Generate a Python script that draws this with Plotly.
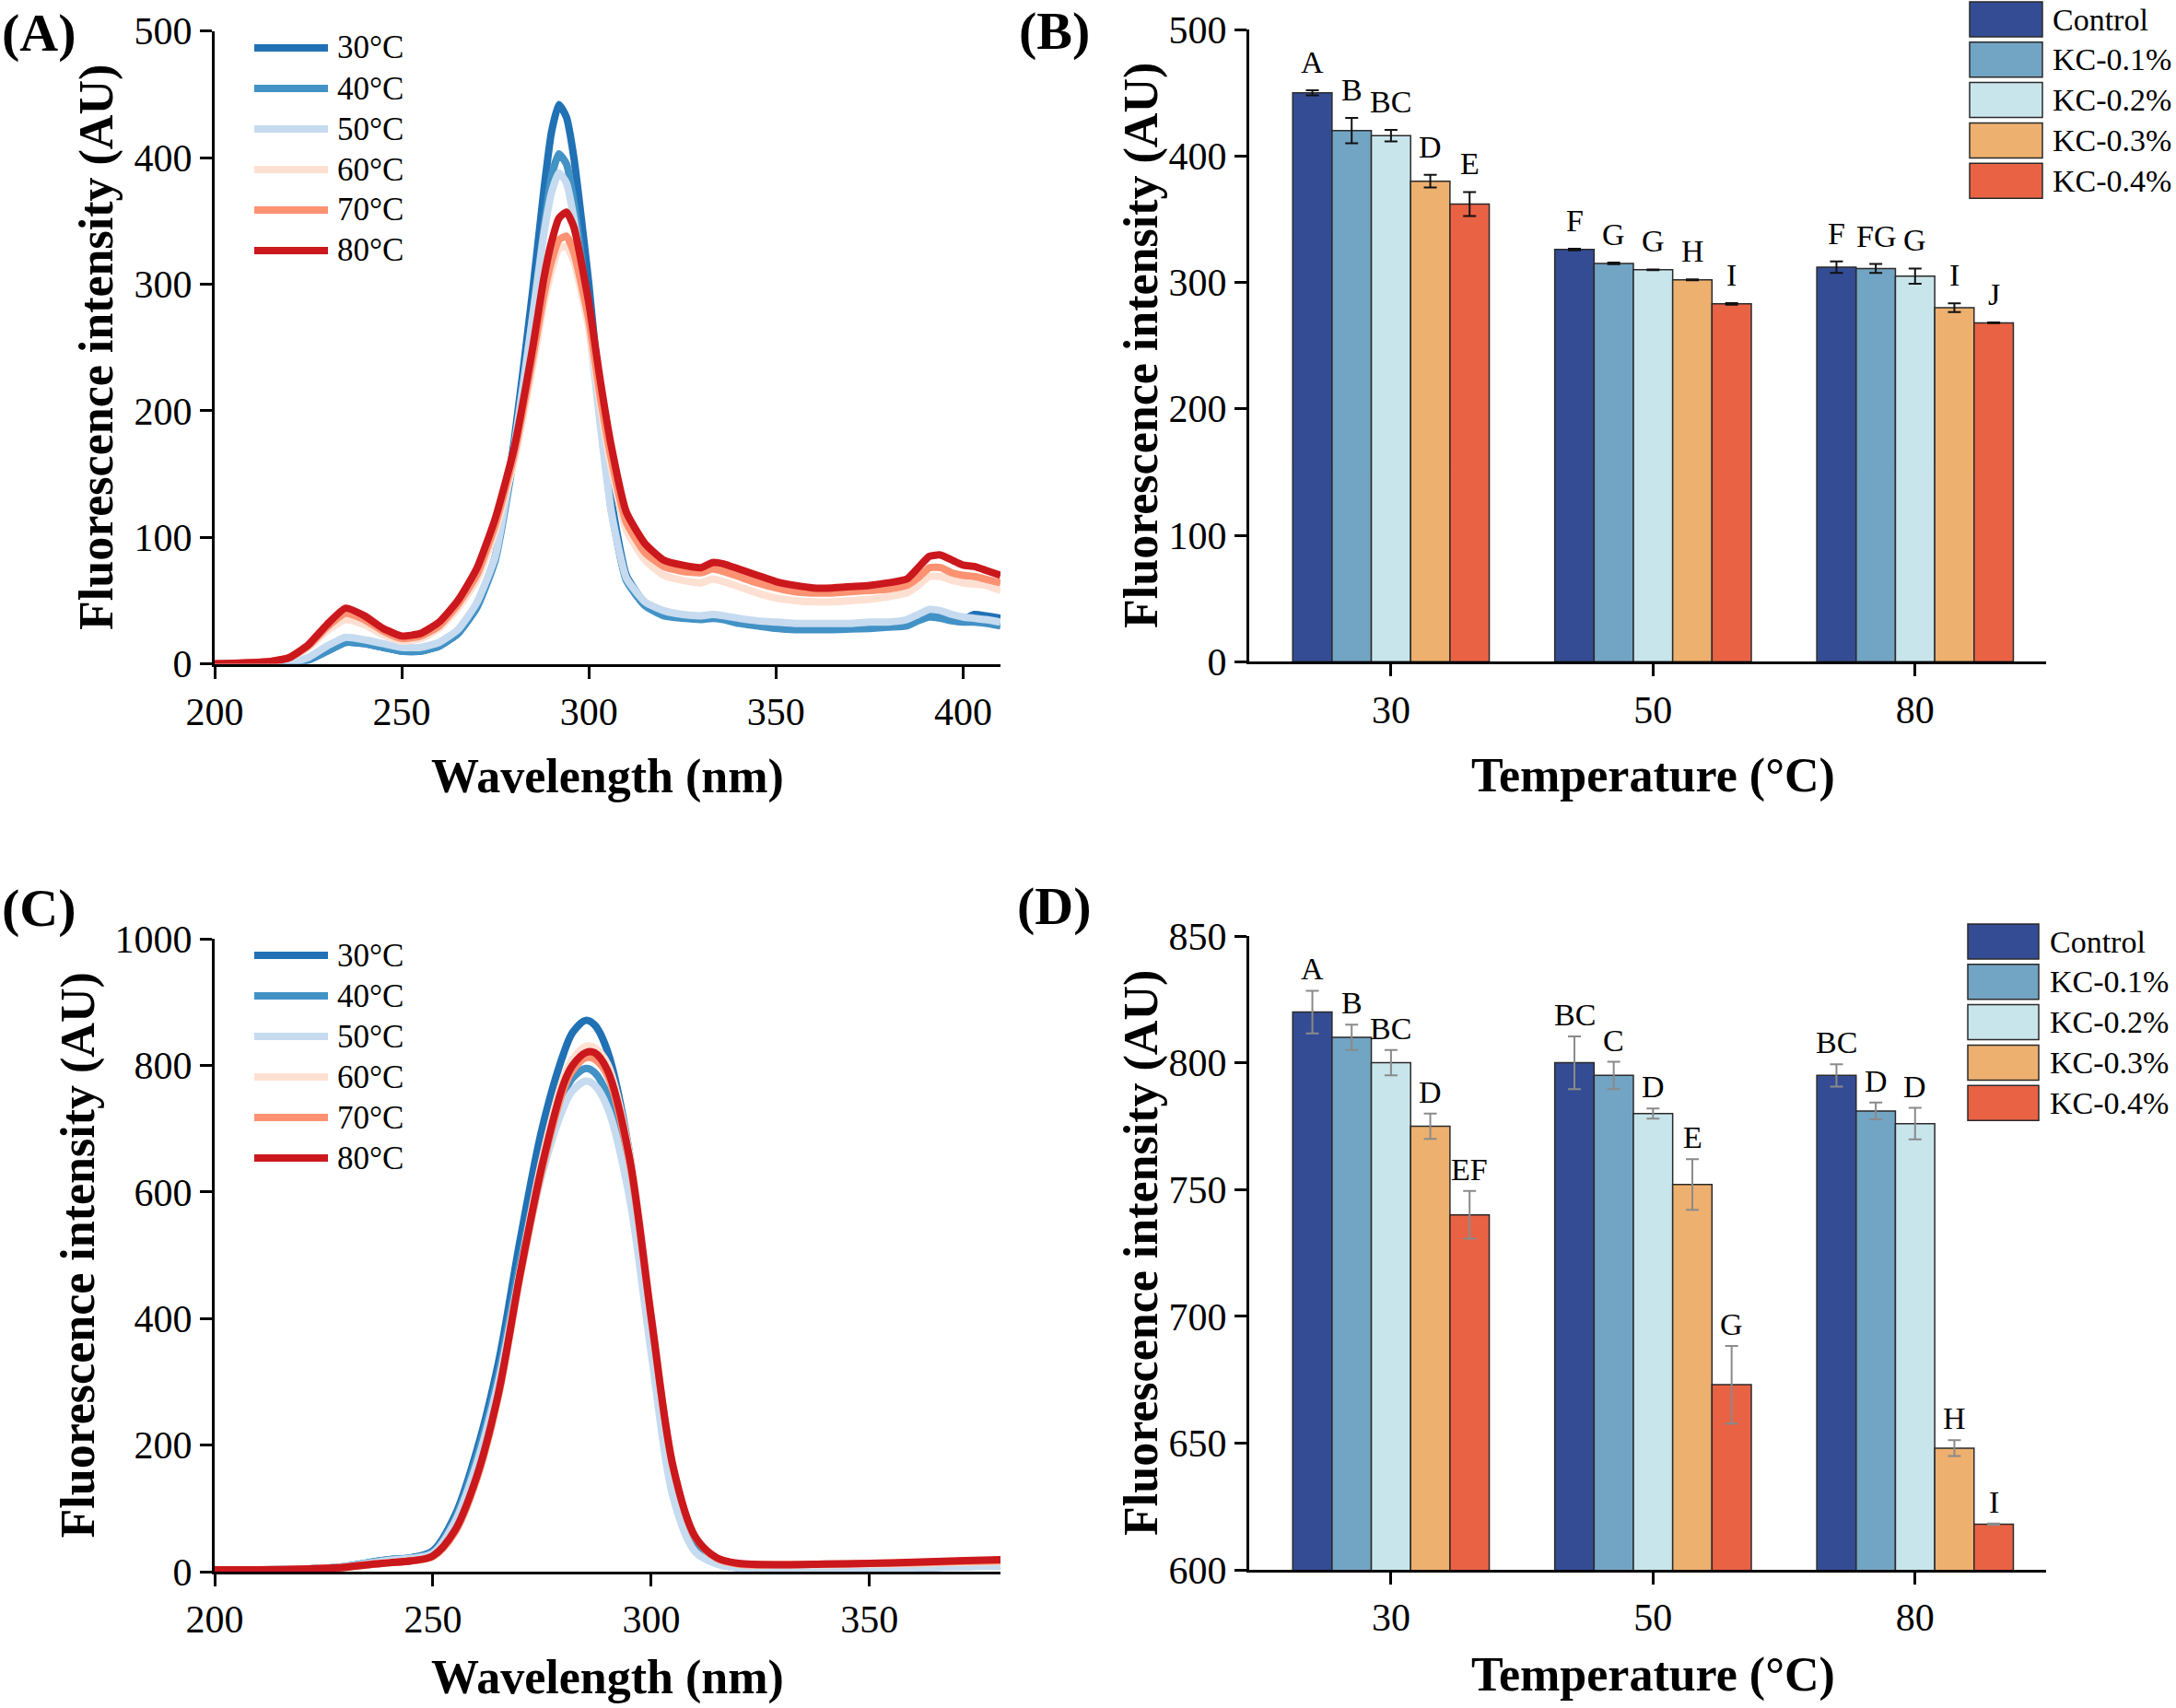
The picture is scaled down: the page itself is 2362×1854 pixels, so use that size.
import plotly.graph_objects as go

FONT = "Liberation Serif"
W, H = 2362, 1854

# ---------------- Panel A data (wavelength, nm) ----------------
wl_a = [200, 205, 210, 215, 220, 225, 230, 235, 240, 245, 250, 255, 260, 265, 270, 275, 280, 285, 288, 290,
        292, 294, 296, 300, 303, 306, 310, 315, 320, 325, 330, 333, 336, 340, 345, 350, 355, 360, 365, 370,
        375, 380, 385, 388, 391, 394, 397, 400, 403, 406, 410]
a_30 = [0, 0, 0, 0, 0, 3, 10, 17, 16, 13, 10, 10, 14, 24, 45, 85, 175, 295, 375, 420,
        442, 432, 400, 300, 210, 130, 70, 48, 40, 37, 36, 37, 36, 34, 32, 30, 28, 28, 28, 29,
        30, 31, 32, 36, 39, 38, 36, 35, 39, 38, 36]
a_40 = [0, 0, 0, 0, 0, 3, 10, 17, 16, 13, 10, 10, 14, 24, 44, 82, 165, 275, 345, 385,
        403, 395, 365, 275, 195, 122, 66, 46, 38, 36, 35, 36, 35, 32, 30, 28, 27, 27, 27, 27.5,
        28, 29, 30, 34, 37, 36, 34, 33, 33, 32, 30]
a_50 = [0, 0, 0, 0, 1, 5, 14, 21, 19, 16, 13, 13, 17, 27, 48, 85, 170, 275, 340, 372,
        388, 380, 352, 268, 190, 120, 68, 49, 42, 39, 38, 39, 38, 36, 34, 33, 32, 32, 32, 32,
        33, 33, 35, 39, 43, 42, 39, 37, 36, 35, 33]
a_60 = [0, 0, 1, 2, 5, 13, 26, 35, 31, 23, 18, 20, 28, 44, 66, 105, 160, 235, 285, 310,
        328, 330, 318, 265, 205, 155, 106, 82, 70, 66, 64, 67, 65, 61, 56, 52, 50, 49, 49, 50,
        51, 53, 56, 62, 69, 69, 66, 64, 63, 62, 58]
a_70 = [0, 0, 1, 2, 5, 14, 29, 40, 35, 26, 20, 22, 30, 47, 70, 110, 165, 242, 292, 318,
        335, 338, 325, 272, 212, 162, 112, 88, 77, 73, 72, 75, 73, 69, 64, 60, 57, 56, 56, 57,
        58, 59, 62, 68, 76, 76, 72, 70, 69, 67, 64]
a_80 = [0, 0.5, 1, 2, 5, 15, 31, 44, 38, 28, 22, 24, 33, 50, 75, 115, 170, 250, 305, 333,
        352, 357, 345, 285, 225, 172, 120, 95, 82, 78, 76, 80, 79, 75, 70, 65, 62, 60, 60, 61,
        62, 64, 67, 76, 85, 86, 82, 78, 77, 74, 70]

# ---------------- Panel C data ----------------
wl_c = [200, 210, 220, 230, 235, 240, 245, 250, 255, 260, 265, 270, 275, 280, 282, 285, 287, 290, 295, 300,
        305, 310, 315, 320, 330, 340, 350, 360, 370, 380]
c_30 = [3, 3, 4, 8, 14, 19, 22, 33, 88, 190, 330, 525, 700, 820, 852, 871, 864, 822, 662, 385,
        135, 38, 14, 7, 5, 5, 5, 6, 8, 10]
c_40 = [3, 3, 4, 8, 14, 19, 22, 31, 83, 180, 312, 490, 645, 755, 780, 795, 789, 752, 608, 355,
        122, 34, 13, 6, 5, 5, 5, 6, 8, 10]
c_50 = [3, 3, 4, 8, 13, 18, 21, 29, 78, 170, 300, 475, 628, 735, 760, 775, 769, 733, 592, 345,
        118, 32, 12, 6, 5, 5, 5, 6, 7, 9]
c_60 = [3, 3, 4, 7, 11, 14, 17, 24, 62, 146, 280, 475, 652, 782, 810, 830, 828, 802, 662, 408,
        168, 56, 22, 12, 11, 11, 12, 13, 15, 16]
c_70 = [3, 3, 4, 7, 11, 14, 17, 24, 62, 146, 278, 468, 636, 764, 792, 812, 810, 784, 648, 400,
        165, 55, 21, 12, 11, 12, 13, 14, 16, 17]
c_80 = [3, 3, 4, 7, 11, 14, 17, 25, 65, 150, 282, 472, 642, 772, 800, 820, 820, 792, 655, 402,
        166, 56, 22, 13, 11, 12, 13, 15, 17, 19]

temp_labels = ["30°C", "40°C", "50°C", "60°C", "70°C", "80°C"]
line_colors = ["#2171b5", "#4292c6", "#c6dbef", "#fee0d2", "#fc9272", "#cb181d"]

# ---------------- Panel B / D data ----------------
categories = ["30", "50", "80"]
groups = ["Control", "KC-0.1%", "KC-0.2%", "KC-0.3%", "KC-0.4%"]
bar_colors = ["#344c94", "#72a4c4", "#c8e5ec", "#edb06f", "#e96244"]

b_control = [450, 326, 312]
b_kc01 = [420, 315, 311]
b_kc02 = [416, 310, 305]
b_kc03 = [380, 302, 280]
b_kc04 = [362, 283, 268]
b_err_control = [2, 0.6, 4.5]
b_err_kc01 = [10, 0.6, 3.5]
b_err_kc02 = [4.5, 0.3, 6]
b_err_kc03 = [5, 0.3, 3.5]
b_err_kc04 = [9.5, 0.6, 0.3]
b_let_control = ["A", "F", "F"]
b_let_kc01 = ["B", "G", "FG"]
b_let_kc02 = ["BC", "G", "G"]
b_let_kc03 = ["D", "H", "I"]
b_let_kc04 = ["E", "I", "J"]

d_control = [820, 800, 795]
d_kc01 = [810, 795, 781]
d_kc02 = [800, 780, 776]
d_kc03 = [775, 752, 648]
d_kc04 = [740, 673, 618]
d_err_control = [8.4, 10.4, 4.4]
d_err_kc01 = [5, 5.4, 3.3]
d_err_kc02 = [5, 2, 6.2]
d_err_kc03 = [5, 10, 3.1]
d_err_kc04 = [9.4, 15.3, 0.3]
d_let_control = ["A", "BC", "BC"]
d_let_kc01 = ["B", "C", "D"]
d_let_kc02 = ["BC", "D", "D"]
d_let_kc03 = ["D", "E", "H"]
d_let_kc04 = ["EF", "G", "I"]

a_ticks = [0, 100, 200, 300, 400, 500]
c_ticks = [0, 200, 400, 600, 800, 1000]
d_ticks = [600, 650, 700, 750, 800, 850]


def px(x):
    return x / W


def py(y):
    return 1 - y / H


fig = go.Figure()
annotations = []
shapes = []

# ---------------- Curves ----------------
for ys, name, col in zip([a_30, a_40, a_50, a_60, a_70, a_80], temp_labels, line_colors):
    fig.add_trace(go.Scatter(x=wl_a, y=ys, mode="lines", name=name, showlegend=False,
                             line=dict(color=col, width=8, shape="spline", smoothing=0.5),
                             xaxis="x", yaxis="y"))
for ys, name, col in zip([c_30, c_40, c_50, c_60, c_70, c_80], temp_labels, line_colors):
    fig.add_trace(go.Scatter(x=wl_c, y=ys, mode="lines", name=name, showlegend=False,
                             line=dict(color=col, width=8, shape="spline", smoothing=0.9),
                             xaxis="x3", yaxis="y3"))

# ---------------- Bars ----------------
BW = 0.15
xs = list(range(len(categories)))


def add_bars(vals_list, errs_list, lets_list, xa, ya, err_color, yshift):
    for j, (vals, errs, lets) in enumerate(zip(vals_list, errs_list, lets_list)):
        off = -0.375 + j * BW
        fig.add_trace(go.Bar(x=xs, y=vals, width=BW, offset=off, name=groups[j], showlegend=False,
                             marker=dict(color=bar_colors[j], line=dict(color="#2a2a2a", width=1.5)),
                             error_y=dict(type="data", array=errs, color=err_color, thickness=2, width=7),
                             xaxis=xa, yaxis=ya))
        for i in xs:
            annotations.append(dict(x=i + off + BW / 2, y=vals[i] + errs[i], xref=xa, yref=ya,
                                    text=lets[i], showarrow=False, yanchor="bottom", yshift=yshift,
                                    font=dict(family=FONT, size=34, color="black")))


add_bars([b_control, b_kc01, b_kc02, b_kc03, b_kc04],
         [b_err_control, b_err_kc01, b_err_kc02, b_err_kc03, b_err_kc04],
         [b_let_control, b_let_kc01, b_let_kc02, b_let_kc03, b_let_kc04], "x2", "y2", "#111111", 10)
add_bars([d_control, d_kc01, d_kc02, d_kc03, d_kc04],
         [d_err_control, d_err_kc01, d_err_kc02, d_err_kc03, d_err_kc04],
         [d_let_control, d_let_kc01, d_let_kc02, d_let_kc03, d_let_kc04], "x4", "y4", "#8a8a8a", 3)

# ---------------- Axes ----------------
common = dict(showline=True, linecolor="black", linewidth=3, ticks="outside", ticklen=13, tickwidth=3,
              tickcolor="black", showgrid=False, zeroline=False, automargin=False,
              tickfont=dict(family=FONT, size=42, color="black"))

dom_left = [px(233), px(1086)]
dom_right = [px(1356), px(2221)]

layout_axes = dict(
    xaxis=dict(domain=dom_left, range=[200, 410], tickvals=[200, 250, 300, 350, 400], anchor="y", **common),
    yaxis=dict(domain=[py(720.6), py(33.7)], range=[0, 500], tickvals=a_ticks, anchor="x", **common),
    xaxis2=dict(domain=dom_right, range=[-0.541, 2.5], tickvals=xs, ticktext=categories, anchor="y2", **common),
    yaxis2=dict(domain=[py(718.3), py(32)], range=[0, 500], tickvals=a_ticks, anchor="x2", **common),
    xaxis3=dict(domain=dom_left, range=[200, 380], tickvals=[200, 250, 300, 350], anchor="y3", **common),
    yaxis3=dict(domain=[py(1706), py(1019)], range=[0, 1000], tickvals=c_ticks, anchor="x3", **common),
    xaxis4=dict(domain=dom_right, range=[-0.541, 2.5], tickvals=xs, ticktext=categories, anchor="y4", **common),
    yaxis4=dict(domain=[py(1704), py(1016)], range=[600, 850], tickvals=d_ticks, anchor="x4", **common),
)

# ---------------- Titles / panel labels ----------------
TITLE_FONT = dict(family=FONT, size=52, color="black")
ytitle = "<b>Fluorescence intensity (AU)</b>"
for xc, yc in [(105, 377), (84, 1362.5), (1239, 375), (1239, 1360)]:
    annotations.append(dict(x=px(xc), y=py(yc), xref="paper", yref="paper", text=ytitle, textangle=-90,
                            showarrow=False, xanchor="center", yanchor="middle", font=TITLE_FONT))
for xc, yc, t in [(659.5, 843, "Wavelength (nm)"), (1794, 842, "Temperature (°C)"),
                  (659.5, 1821, "Wavelength (nm)"), (1794, 1818, "Temperature (°C)")]:
    annotations.append(dict(x=px(xc), y=py(yc), xref="paper", yref="paper", text="<b>" + t + "</b>",
                            showarrow=False, xanchor="center", yanchor="middle", font=TITLE_FONT))
for xc, yc, t in [(42, 36, "(A)"), (1144, 34, "(B)"), (42, 985, "(C)"), (1144, 983, "(D)")]:
    annotations.append(dict(x=px(xc), y=py(yc), xref="paper", yref="paper", text="<b>" + t + "</b>",
                            showarrow=False, xanchor="center", yanchor="middle",
                            font=dict(family=FONT, size=58, color="black")))

# ---------------- Legends for line panels ----------------
for y0 in [52, 1037]:
    for k, (name, col) in enumerate(zip(temp_labels, line_colors)):
        yc = y0 + k * 44
        shapes.append(dict(type="line", xref="paper", yref="paper", x0=px(276), x1=px(356),
                           y0=py(yc), y1=py(yc), line=dict(color=col, width=8)))
        annotations.append(dict(x=px(364), y=py(yc), xref="paper", yref="paper", text=name, showarrow=False,
                                xanchor="left", yanchor="middle", font=dict(family=FONT, size=35, color="black")))

# ---------------- Legends for bar panels ----------------
for bx0, bx1, tx, ytop in [(2138, 2217, 2226, 2), (2136, 2213, 2223, 1003)]:
    for k, (name, col) in enumerate(zip(groups, bar_colors)):
        t = ytop + k * 43.8
        shapes.append(dict(type="rect", xref="paper", yref="paper", x0=px(bx0), x1=px(bx1),
                           y0=py(t + 38), y1=py(t), fillcolor=col, line=dict(color="#2a2a2a", width=1.5)))
        annotations.append(dict(x=px(tx), y=py(t + 19), xref="paper", yref="paper", text=name, showarrow=False,
                                xanchor="left", yanchor="middle", font=dict(family=FONT, size=34, color="black")))

fig.update_layout(width=W, height=H, margin=dict(l=0, r=0, t=0, b=0, autoexpand=False), paper_bgcolor="white",
                  plot_bgcolor="white", barmode="overlay", annotations=annotations, shapes=shapes,
                  font=dict(family=FONT, color="black"), showlegend=False, **layout_axes)

fig.write_html("out.html", config={"displayModeBar": False},
               post_script="document.body.style.margin='0';document.body.style.overflow='hidden';")
